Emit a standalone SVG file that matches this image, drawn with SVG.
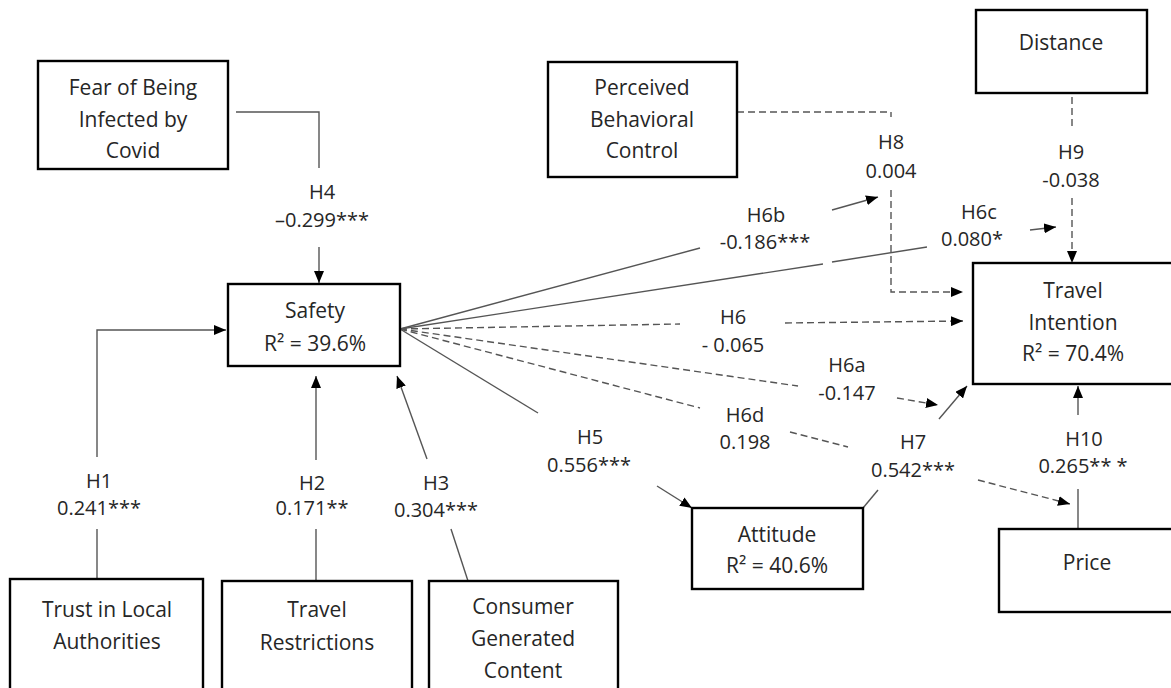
<svg xmlns="http://www.w3.org/2000/svg" width="1171" height="688" viewBox="0 0 1171 688">
<style>
.box{fill:#fff;stroke:#000;stroke-width:2.4}
.t{font-family:"Open Sans","Liberation Sans",sans-serif;font-size:21px;fill:#262626;text-anchor:middle}
.l{font-family:"Open Sans","Liberation Sans",sans-serif;font-size:20px;fill:#262626;text-anchor:middle}
.s{fill:none;stroke:#555;stroke-width:1.4}
.d{fill:none;stroke:#555;stroke-width:1.4;stroke-dasharray:7 4}
.a{marker-end:url(#ah)}
</style>
<defs>
<marker id="ah" viewBox="0 0 12 10" refX="12" refY="5" markerWidth="12" markerHeight="10" markerUnits="userSpaceOnUse" orient="auto">
<path d="M0,0 L12,5 L0,10 z" fill="#000"/>
</marker>
</defs>
<rect width="1171" height="688" fill="#fff"/>

<g id="connectors">
<!-- H4 -->
<polyline class="s" points="236,112 319,112 319,168"/>
<line class="s a" x1="319" y1="247" x2="319" y2="283"/>
<!-- H1 -->
<line class="s" x1="97" y1="579" x2="97" y2="529"/>
<polyline class="s a" points="97,457 97,330 226,330"/>
<!-- H2 -->
<line class="s" x1="316" y1="581" x2="316" y2="529"/>
<line class="s a" x1="316" y1="460" x2="316" y2="376"/>
<!-- H3 -->
<line class="s" x1="468" y1="581" x2="451" y2="529"/>
<line class="s a" x1="427" y1="459" x2="397" y2="376"/>
<!-- H5 -->
<line class="s" x1="400" y1="329" x2="538" y2="413"/>
<line class="s a" x1="657" y1="486" x2="692" y2="508"/>
<!-- H6b -->
<line class="s" x1="400" y1="329" x2="700" y2="248"/>
<line class="s a" x1="832" y1="210" x2="878" y2="197"/>
<!-- H6c -->
<line class="s" x1="400" y1="329" x2="823" y2="264"/>
<line class="s" x1="832" y1="262" x2="927" y2="247"/>
<line class="s a" x1="1030" y1="230" x2="1056" y2="227"/>
<!-- H6 -->
<line class="d" x1="400" y1="329" x2="680" y2="324"/>
<line class="d a" x1="785" y1="323" x2="963" y2="321"/>
<!-- H6a -->
<line class="d" x1="400" y1="329" x2="798" y2="386"/>
<line class="d a" x1="897" y1="398" x2="938" y2="405"/>
<!-- H6d -->
<line class="d" x1="400" y1="329" x2="700" y2="408"/>
<line class="d" x1="790" y1="432" x2="848" y2="447"/>
<line class="d a" x1="978" y1="480" x2="1070" y2="504"/>
<!-- H7 -->
<line class="s" x1="863" y1="508" x2="878" y2="490"/>
<line class="s a" x1="939" y1="419" x2="967" y2="386"/>
<!-- H10 -->
<line class="s" x1="1078" y1="529" x2="1078" y2="489"/>
<line class="s a" x1="1078" y1="415" x2="1078" y2="386"/>
<!-- H8 -->
<polyline class="d" points="737,112 891,112 891,117"/>
<polyline class="d a" points="891,190 891,292 963,292"/>
<!-- H9 -->
<line class="d" x1="1072" y1="97" x2="1072" y2="128"/>
<line class="d a" x1="1072" y1="198" x2="1072" y2="263"/>
</g>

<g id="labels">
<text class="l" x="322" y="199">H4</text><text class="l" x="322" y="227">–0.299***</text>
<text class="l" x="99" y="488">H1</text><text class="l" x="99" y="515">0.241***</text>
<text class="l" x="312" y="490">H2</text><text class="l" x="312" y="515">0.171**</text>
<text class="l" x="436" y="490">H3</text><text class="l" x="436" y="517">0.304***</text>
<text class="l" x="590" y="444">H5</text><text class="l" x="589" y="472">0.556***</text>
<text class="l" x="733" y="324">H6</text><text class="l" x="733" y="352">- 0.065</text>
<text class="l" x="745" y="422">H6d</text><text class="l" x="745" y="449">0.198</text>
<text class="l" x="847" y="372">H6a</text><text class="l" x="847" y="400">-0.147</text>
<text class="l" x="913" y="449">H7</text><text class="l" x="913" y="477">0.542***</text>
<text class="l" x="1084" y="446">H10</text><text class="l" x="1083" y="473">0.265** *</text>
<text class="l" x="766" y="222">H6b</text><text class="l" x="765" y="249">-0.186***</text>
<text class="l" x="979" y="219">H6c</text><text class="l" x="972" y="246">0.080*</text>
<text class="l" x="891" y="149">H8</text><text class="l" x="891" y="178">0.004</text>
<text class="l" x="1071" y="159">H9</text><text class="l" x="1071" y="187">-0.038</text>
</g>

<g id="fear">
<rect class="box" x="38" y="61" width="190" height="108"/>
<text class="t" x="133" y="95">Fear of Being</text>
<text class="t" x="133" y="127">Infected by</text>
<text class="t" x="133" y="158">Covid</text>
</g>
<g id="safety">
<rect class="box" x="228" y="284" width="172" height="82"/>
<text class="t" x="315" y="318">Safety</text>
<text class="t" x="315" y="351">R² = 39.6%</text>
</g>
<g id="trust">
<rect class="box" x="10" y="579" width="193" height="115"/>
<text class="t" x="107" y="617">Trust in Local</text>
<text class="t" x="107" y="649">Authorities</text>
</g>
<g id="restrictions">
<rect class="box" x="222" y="581" width="190" height="113"/>
<text class="t" x="317" y="617">Travel</text>
<text class="t" x="317" y="650">Restrictions</text>
</g>
<g id="cgc">
<rect class="box" x="429" y="581" width="189" height="113"/>
<text class="t" x="523" y="614">Consumer</text>
<text class="t" x="523" y="646">Generated</text>
<text class="t" x="523" y="678">Content</text>
</g>
<g id="attitude">
<rect class="box" x="692" y="508" width="171" height="81"/>
<text class="t" x="777" y="542">Attitude</text>
<text class="t" x="777" y="573">R² = 40.6%</text>
</g>
<g id="pbc">
<rect class="box" x="548" y="62" width="189" height="115"/>
<text class="t" x="642" y="95">Perceived</text>
<text class="t" x="642" y="127">Behavioral</text>
<text class="t" x="642" y="158">Control</text>
</g>
<g id="distance">
<rect class="box" x="976" y="10" width="171" height="83"/>
<text class="t" x="1061" y="50">Distance</text>
</g>
<g id="intention">
<rect class="box" x="973" y="263" width="204" height="121"/>
<text class="t" x="1073" y="298">Travel</text>
<text class="t" x="1073" y="330">Intention</text>
<text class="t" x="1073" y="361">R² = 70.4%</text>
</g>
<g id="price">
<rect class="box" x="999" y="529" width="178" height="83"/>
<text class="t" x="1087" y="570">Price</text>
</g>
</svg>
